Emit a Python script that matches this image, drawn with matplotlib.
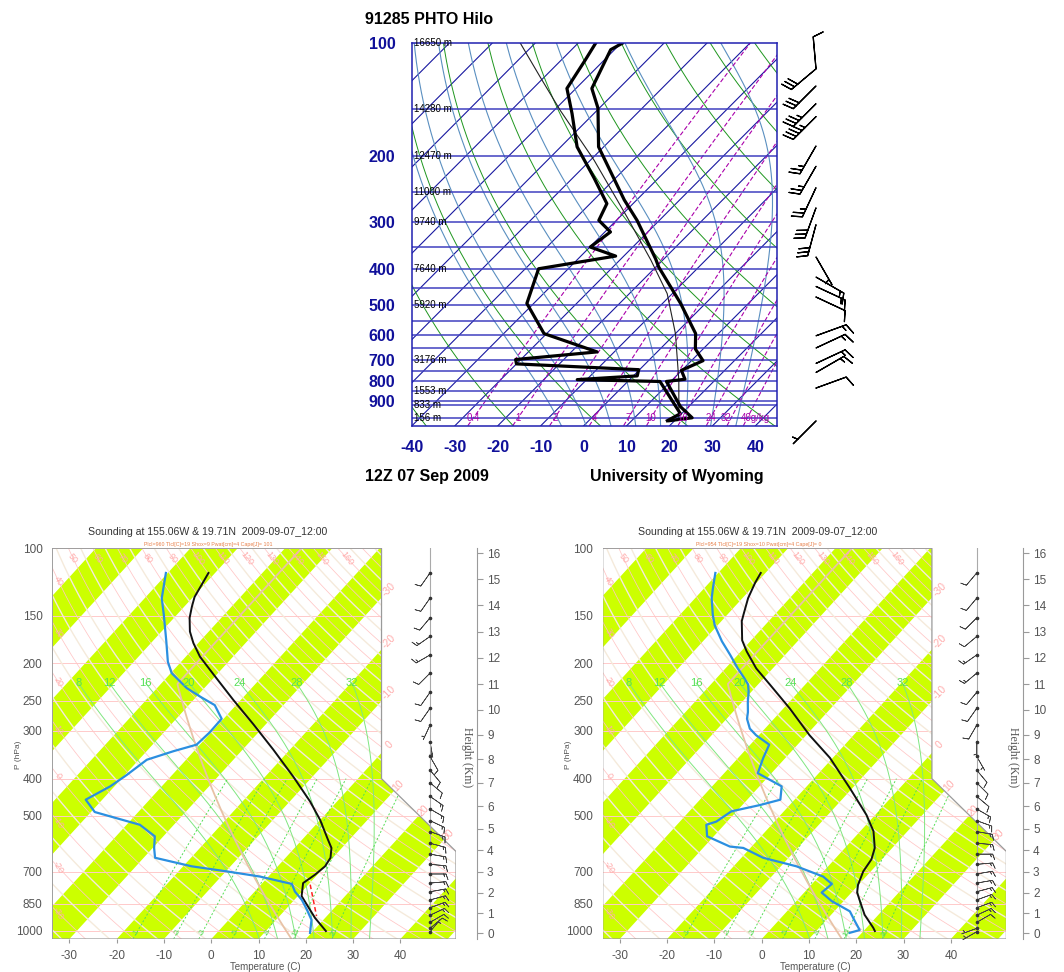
import numpy as np
import matplotlib.pyplot as plt
from matplotlib.patches import Polygon
from matplotlib.ticker import NullLocator

plt.rcParams['font.family'] = ['Liberation Sans', 'DejaVu Sans']

# ---------------- data ----------------
# upper panel: radiosonde 91285 PHTO Hilo (UWyo)
obs_p = [100, 104, 132, 149, 189, 262, 297, 376, 396, 495, 596, 655, 704, 747, 789, 800, 934, 1000, 1018]
obs_t = [-79.7, -80.9, -76.3, -70.3, -61.2, -42.9, -35.2, -22.0, -19.3, -5.8, 4.7, 8.2, 12.7, 9.9, 12.8,
         9.0, 18.1, 23.4, 18.8]
obs_td_p = [100, 111, 132, 154, 189, 229, 268, 297, 319, 350, 370, 400, 495, 596, 667, 699, 718, 744, 773,
            791, 800, 975, 1018]
obs_td = [-85.9, -84.4, -82.1, -75.1, -66.2, -55.0, -46.1, -44.1, -38.7, -39.9, -31.9, -46.9, -41.6, -30.6,
          -14.0, -31.2, -30.0, -0.2, 0.9, -12.2, 7.5, 19.7, 18.3]
parcel_p = [1000, 794, 596, 466, 379, 291, 205, 151, 123, 100]
parcel_t = [20.3, 11.6, 0.0, -11.2, -22.8, -38.3, -59.2, -78.6, -91.0, -103.4]
obs_wind_p = [117, 117, 130, 145, 157, 188, 213, 243, 275, 305, 372, 421, 446, 476, 604, 651, 716, 757, 833, 1020]
obs_wind_dir = [355, 230, 225, 225, 225, 210, 210, 205, 200, 195, 150, 120, 115, 115, 70, 65, 65, 60, 70, 225]
obs_wind_spd = [10, 30, 30, 35, 45, 25, 25, 25, 30, 30, 5, 15, 15, 10, 15, 15, 15, 15, 10, 5]
obs_isobars = [150, 200, 250, 300, 350, 400, 450, 500, 550, 600, 650, 700, 750, 800, 850, 900, 925, 1000]
obs_ticks = [100, 200, 300, 400, 500, 600, 700, 800, 900]
hgt_lev = [100, 150, 200, 250, 300, 400, 500, 700, 850, 925, 1000]
hgt_txt = ['16650 m', '14280 m', '12470 m', '11000 m', '9740 m', '7640 m', '5920 m', '3176 m',
           '1553 m', '833 m', '156 m']
mix_top = [0.4, 1, 2, 4, 7, 10, 16, 24, 32, 40]
mix_top_txt = ['0.4', '1', '2', '4', '7', '10', '16', '24', '32', '40g/kg']

# lower panels: model soundings (NCL skew-T)
wrf1_p = [116, 122, 134, 142, 152, 165, 177, 192, 214, 249, 289, 336, 395, 459, 513, 578, 607, 644, 678,
          713, 750, 811, 924, 1001]
wrf1_t = [-71.4, -70.8, -69.7, -68.4, -66.7, -64.0, -61.0, -57.0, -50.6, -41.6, -32.5, -23.5, -14.1, -5.7,
          0.0, 5.5, 7.8, 9.5, 10.0, 9.5, 8.6, 10.8, 17.8, 22.7]
wrf1_td_p = [116, 135, 149, 174, 198, 212, 232, 244, 257, 279, 303, 326, 339, 357, 391, 419, 454, 489, 528,
             566, 607, 644, 678, 699, 721, 754, 789, 830, 881, 936, 1012]
wrf1_td = [-80.4, -76.4, -72.8, -67.3, -62.8, -59.8, -53.7, -49.3, -44.5, -40.4, -40.3, -40.7, -44.3, -48.3,
           -49.6, -50.9, -53.5, -49.2, -37.2, -31.8, -29.7, -27.6, -18.2, -9.8, -1.8, 6.4, 8.5, 11.6, 14.6,
           17.5, 19.7]
wrf1_pcl_p = [757, 914]
wrf1_pcl_t = [10.4, 17.8]
wrf2_p = [116, 123, 135, 149, 155, 174, 186, 206, 227, 262, 308, 353, 423, 498, 549, 607, 650, 699, 758,
          794, 862, 908, 981, 1001]
wrf2_t = [-71.0, -70.3, -68.8, -66.6, -65.7, -61.9, -58.8, -53.5, -47.5, -38.7, -29.3, -20.6, -10.6, -1.8,
          2.8, 6.3, 7.8, 8.4, 9.9, 11.2, 14.8, 17.1, 21.4, 22.4]
wrf2_td_p = [116, 127, 135, 149, 159, 175, 190, 206, 219, 227, 237, 252, 268, 279, 296, 308, 326, 353, 387,
             419, 454, 469, 487, 518, 528, 566, 602, 607, 644, 678, 721, 754, 794, 836, 889, 944, 995, 1012]
wrf2_td = [-80.6, -78.2, -76.5, -73.1, -70.6, -66.0, -61.6, -57.4, -54.0, -52.1, -50.6, -48.8, -46.8, -45.7,
           -43.2, -40.6, -36.0, -34.7, -32.9, -25.3, -23.0, -26.3, -31.1, -32.3, -33.8, -31.4, -24.6, -21.5,
           -15.4, -6.7, 0.9, 4.2, 3.7, 7.5, 13.3, 16.3, 19.0, 17.4]
wrf_wind_p = [116, 135, 152, 170, 190, 212, 238, 262, 290, 320, 350, 380, 410, 445, 480, 515, 550, 590,
              630, 670, 710, 750, 790, 830, 870, 910, 950, 985, 1005]
wrf1_wind_dir = [215, 215, 220, 235, 240, 225, 215, 215, 205, 170, 150, 140, 130, 125, 120, 115, 110, 105,
                 100, 95, 90, 85, 80, 75, 70, 65, 60, 50, 40]
wrf1_wind_spd = [10, 10, 10, 15, 15, 10, 10, 10, 5, 5, 10, 10, 10, 15, 15, 15, 15, 15, 15, 15, 15, 15, 15,
                 15, 15, 15, 10, 10, 5]
wrf2_wind_dir = [220, 220, 225, 230, 235, 230, 220, 215, 210, 180, 150, 140, 135, 130, 120, 110, 100, 95,
                 90, 85, 80, 80, 75, 70, 70, 65, 60, 250, 240]
wrf2_wind_spd = [10, 10, 10, 10, 15, 15, 10, 10, 10, 5, 5, 10, 10, 10, 15, 15, 15, 15, 15, 15, 15, 15, 15,
                 15, 15, 15, 10, 5, 5]
wrf_ticks = [100, 150, 200, 250, 300, 400, 500, 700, 850, 1000]
wrf_mix = [1, 2, 3, 5, 8, 12, 20]
wrf_moist = [8, 12, 16, 20, 24, 28, 32]
wrf_title = 'Sounding at 155.06W & 19.71N  2009-09-07_12:00'
wrf1_sub = 'Plcl=960 Tlcl[C]=19 Shox=9 Pwat[cm]=4 Cape[J]= 101'
wrf2_sub = 'Plcl=954 Tlcl[C]=19 Shox=10 Pwat[cm]=4 Cape[J]= 0'

# ---------------- helpers ----------------
W, H = 1064, 972
fig = plt.figure(figsize=(W / 100, H / 100), dpi=100)


def rect(x0, y0, x1, y1):
    return [x0 / W, 1 - y1 / H, (x1 - x0) / W, (y1 - y0) / H]


def skew(t, p, k):
    return np.asarray(t, float) + k * np.log(1050.0 / np.asarray(p, float))


def dry_t(theta, p):
    return (theta + 273.15) * (np.asarray(p, float) / 1000.0) ** 0.2857 - 273.15


def mix_t(w, p):
    e = w * np.asarray(p, float) / (622.0 + w)
    a = np.log(e / 6.112)
    return 243.5 * a / (17.67 - a)


PG = np.linspace(1050, 100, 381)


def moist_t(t0):
    def dtdp(t, p):
        tc = t - 273.15
        es = 6.112 * np.exp(17.67 * tc / (tc + 243.5))
        rs = 0.622 * es / (p - es)
        return (287.04 * t + 2.501e6 * rs) / (p * (1005.7 + 2.501e6 ** 2 * rs * 0.622 / (287.04 * t * t)))
    out = np.zeros_like(PG)
    i0 = 20
    out[i0] = t0 + 273.15
    for rng in (range(i0 + 1, len(PG)), range(i0 - 1, -1, -1)):
        for i in rng:
            j = i - 1 if i > i0 else i + 1
            dp = PG[i] - PG[j]
            k1 = dtdp(out[j], PG[j])
            k2 = dtdp(out[j] + k1 * dp, PG[i])
            out[i] = out[j] + 0.5 * (k1 + k2) * dp
    return out - 273.15


def uv(d, s):
    d = np.radians(np.asarray(d, float))
    s = np.asarray(s, float)
    return -s * np.sin(d), -s * np.cos(d)


def std_p(z):
    z = np.asarray(z, float)
    return np.where(z <= 11000, 1013.25 * (1 - 2.25577e-5 * np.minimum(z, 11000)) ** 5.25588,
                    226.32 * np.exp(-(z - 11000) / 6341.62))


def std_t(p):
    p = np.asarray(p, float)
    return np.where(p >= 226.32, 288.15 * (p / 1013.25) ** 0.190263 - 273.15, -56.5)


# ---------------- upper panel ----------------
K1 = 37.7
ax = fig.add_axes(rect(412, 43.3, 777, 425.7))
ax.set_yscale('log')
ax.set_xlim(-40, 45)
ax.set_ylim(1050, 100)
pp = np.geomspace(1050, 100, 200)
for t in range(-140, 50, 10):
    ax.plot(skew([t, t], [1050, 100], K1), [1050, 100], color='#1818a0', lw=0.8)
for th in range(-60, 260, 20):
    ax.plot(skew(dry_t(th, pp), pp, K1), pp, color='#1e961e', lw=0.7)
for t0 in range(-8, 40, 6):
    ax.plot(skew(moist_t(t0), PG, K1), PG, color='#5a8fc0', lw=0.8)
for w in mix_top:
    ax.plot(skew(mix_t(w, pp), pp, K1), pp, color='#aa00aa', lw=0.8, dashes=(4, 2))
for lev in obs_isobars:
    ax.axhline(lev, color='#4040c0', lw=1.1)
ax.plot(skew(parcel_t, parcel_p, K1), parcel_p, color='#222222', lw=0.8)
ax.plot(skew(obs_td, obs_td_p, K1), obs_td_p, color='black', lw=2.3)
ax.plot(skew(obs_t, obs_p, K1), obs_p, color='black', lw=2.3)
for lev, txt in zip(hgt_lev, hgt_txt):
    ax.text(-39.6, lev, txt, fontsize=7, va='center', ha='left', color='black')
mix_shift = [0, 0, 0, 0, 0, 0, 0, 0, -1.3, 1.8]
for w, txt, dx in zip(mix_top, mix_top_txt, mix_shift):
    ax.text(float(skew(mix_t(w, 1000), 1000, K1)) + dx, 1000, txt, fontsize=7, color='#aa00aa',
            ha='center', va='center')
for s in ax.spines.values():
    s.set_color('#2020b0')
    s.set_linewidth(1.1)
ax.set_yticks(obs_ticks, labels=[str(v) for v in obs_ticks])
ax.yaxis.set_minor_locator(NullLocator())
ax.set_xticks(range(-40, 50, 10), labels=[str(v) for v in range(-40, 50, 10)])
ax.tick_params(length=0, labelsize=11.5, labelcolor='#10109a')
ax.tick_params(axis='y', pad=12)
ax.tick_params(axis='x', pad=10)
for lab in ax.get_xticklabels() + ax.get_yticklabels():
    lab.set_fontweight('bold')

bx = fig.add_axes(rect(796, 43.3, 836, 425.7))
bx.set_yscale('log')
bx.set_ylim(1050, 100)
bx.set_xlim(-1, 1)
bx.axis('off')
u, v = uv(obs_wind_dir, obs_wind_spd)
bx.barbs(np.zeros(len(obs_wind_p)), obs_wind_p, u, v, length=6.8, lw=0.9, color='black',
         sizes=dict(spacing=0.13, height=0.32, width=0.25), clip_on=False)

fig.text(365 / W, 1 - 20 / H, '91285 PHTO Hilo', fontsize=11.5, fontweight='bold', va='center')
fig.text(365 / W, 1 - 476 / H, '12Z 07 Sep 2009', fontsize=11.5, fontweight='bold', va='center')
fig.text(590 / W, 1 - 476 / H, 'University of Wyoming', fontsize=11.5, fontweight='bold', va='center')


# ---------------- lower panels ----------------
def wrf_panel(x0, barb_x, hgt_x, sub, t_p, t, td_p, td, wdir, wspd, pcl_p=None, pcl_t=None):
    K = 32.14
    xl, xr, xm = -33.62, 51.75, 36.0
    ax = fig.add_axes(rect(x0, 548.3, x0 + 403.7, 939))
    ax.set_yscale('log')
    ax.set_xlim(xl, xr)
    ax.set_ylim(1050, 100)
    for s in ax.spines.values():
        s.set_visible(False)
    verts = [(xl, 100), (xm, 100), (xm, 400), (xr, 620), (xr, 1050), (xl, 1050)]
    frame = Polygon(verts, closed=True, fc='none', ec='#9a9a9a', lw=0.9, transform=ax.transData, zorder=6)
    ax.add_patch(frame)
    arts = []
    top = K * np.log(10.5)
    for t0 in range(-120, 60, 20):
        arts += ax.fill([t0, t0 + 10, t0 + 10 + top, t0 + top], [1050, 1050, 100, 100],
                        color='#ccff00', lw=0, zorder=1)
    for lev in wrf_ticks:
        arts += ax.plot([xl, xr], [lev, lev], color='#ffcaca', lw=0.7, zorder=2)
    for th in range(-40, 200, 10):
        arts += ax.plot(skew(dry_t(th, pp), pp, K), pp, color='#ffc6c6', lw=0.55, zorder=2)
        arts += ax.plot(skew(dry_t(th + 5, pp), pp, K), pp, color='#f5eadb', lw=1.0, zorder=2)
    msk = PG >= 225
    for tw in wrf_moist:
        mt = moist_t(tw)
        arts += ax.plot(skew(mt[msk], PG[msk], K), PG[msk], color='#80e680', lw=0.7, zorder=2)
        xlab = float(skew(np.interp(225, PG[::-1], mt[::-1]), 225, K))
        ax.text(xlab, 225, str(tw), color='#55e055', fontsize=8, ha='center', va='center', zorder=7)
    pm = np.geomspace(1050, 400, 60)
    for w in wrf_mix:
        arts += ax.plot(skew(mix_t(w, pm), pm, K), pm, color='#55dd55', lw=0.7, dashes=(2, 2), zorder=2)
        ax.text(float(skew(mix_t(w, 1012), 1012, K)), 1012, str(w), color='#55dd55', fontsize=5.5,
                rotation=60, ha='center', va='center', zorder=7)
    arts += ax.plot(skew(std_t(pp), pp, K), pp, color='#e8c2a6', lw=1.3, zorder=3)
    if pcl_p is not None:
        arts += ax.plot(skew(pcl_t, pcl_p, K), pcl_p, color='#ff2020', lw=1.1, dashes=(3, 2), zorder=4)
    arts += ax.plot(skew(t, t_p, K), t_p, color='#111111', lw=1.4, zorder=5)
    arts += ax.plot(skew(td, td_p, K), td_p, color='#2b8fe0', lw=1.6, zorder=5)
    for a in arts:
        a.set_clip_path(frame)
    # dry adiabat labels on top and left edge, isotherm labels on right edge
    for th in range(50, 170, 10):
        ax.text(float(skew(dry_t(th, 106), 106, K)), 106, str(th), color='#ffaaaa', fontsize=6.5,
                rotation=-52, ha='center', va='center', zorder=7)
    pf = np.geomspace(1050, 100, 800)[::-1]
    for th in range(40, -40, -10):
        xs = skew(dry_t(th, pf), pf, K)
        ax.text(xl + 1.3, float(np.interp(xl + 1.3, xs, pf)), str(th), color='#ffaaaa', fontsize=6.5,
                rotation=-60, ha='center', va='center', zorder=7)
    for ti in [-30, -20, -10, 0]:
        ax.text(xm + 1.6, 1050 * np.exp(-(xm + 1.6 - ti) / K), str(ti), color='#ffaaaa', fontsize=7.5,
                rotation=45, ha='center', va='center', zorder=7)
    for ti in [10, 20, 30]:
        edge = xm + (xr - xm) * (np.log(pf) - np.log(400)) / (np.log(620) - np.log(400)) + 2.0
        diff = skew(ti, pf, K) - edge
        pl = float(pf[np.argmin(np.abs(diff))])
        ax.text(float(skew(ti, pl, K)), pl, str(ti), color='#ffaaaa', fontsize=7.5,
                rotation=45, ha='center', va='center', zorder=7)
    ax.set_yticks(wrf_ticks, labels=[str(v) for v in wrf_ticks])
    ax.yaxis.set_minor_locator(NullLocator())
    ax.set_xticks(range(-30, 50, 10), labels=[str(v) for v in range(-30, 50, 10)])
    ax.tick_params(axis='y', length=0, pad=7, labelsize=8.5, labelcolor='#555555')
    ax.tick_params(axis='x', length=3, color='#9a9a9a', pad=5, labelsize=8.5, labelcolor='#555555')
    fig.text((x0 + 213) / W, 1 - 967 / H, 'Temperature (C)', fontsize=7, color='#555555',
             ha='center', va='center')
    fig.text((x0 - 34) / W, 1 - 755 / H, 'P (hPa)', fontsize=6, color='#555555', rotation=90,
             ha='center', va='center')
    fig.text((x0 + 155) / W, 1 - 531.7 / H, wrf_title, fontsize=7.6, color='#333333',
             ha='center', va='center')
    fig.text((x0 + 156) / W, 1 - 544.3 / H, sub, fontsize=3.8, color='#e8804a', ha='center', va='center')

    # wind barbs
    bx = fig.add_axes(rect(barb_x - 30, 548.3, barb_x + 30, 939))
    bx.set_yscale('log')
    bx.set_ylim(1050, 100)
    bx.set_xlim(-1, 1)
    bx.axis('off')
    bx.plot([0, 0], [100, wind_bottom], color='#aaaaaa', lw=0.8)
    bx.plot(np.zeros(len(wrf_wind_p)), wrf_wind_p, 'o', ms=1.6, color='#333333')
    u, v = uv(wdir, wspd)
    bx.barbs(np.zeros(len(wrf_wind_p)), wrf_wind_p, u, v, length=4.8, lw=0.5, color='#444444',
             sizes=dict(spacing=0.15, height=0.35, width=0.25), clip_on=False)

    # height scale
    hx = fig.add_axes(rect(hgt_x - 20, 548.3, hgt_x, 939))
    hx.set_yscale('log')
    hx.set_ylim(1050, 100)
    hx.patch.set_visible(False)
    for side in ['left', 'top', 'bottom']:
        hx.spines[side].set_visible(False)
    hx.spines['right'].set_color('#9a9a9a')
    hx.yaxis.tick_right()
    hx.set_yticks(std_p(np.arange(17) * 1000.0), labels=[str(z) for z in range(17)])
    hx.yaxis.set_minor_locator(NullLocator())
    hx.set_xticks([])
    hx.tick_params(axis='y', direction='out', length=4, color='#9a9a9a', labelsize=8.5,
                   labelcolor='#555555', pad=3)
    fig.text((hgt_x - 10) / W, 1 - 757 / H, 'Height (Km)', fontsize=8.5, color='#555555',
             rotation=-90, ha='center', va='center', family='Liberation Serif')


wind_bottom = 1012
wrf_panel(52.3, 430, 477.3, wrf1_sub, wrf1_p, wrf1_t, wrf1_td_p, wrf1_td, wrf1_wind_dir, wrf1_wind_spd,
          wrf1_pcl_p, wrf1_pcl_t)
wrf_panel(602.7, 976.7, 1023.3, wrf2_sub, wrf2_p, wrf2_t, wrf2_td_p, wrf2_td, wrf2_wind_dir, wrf2_wind_spd)

fig.savefig('out.png', dpi=100)
